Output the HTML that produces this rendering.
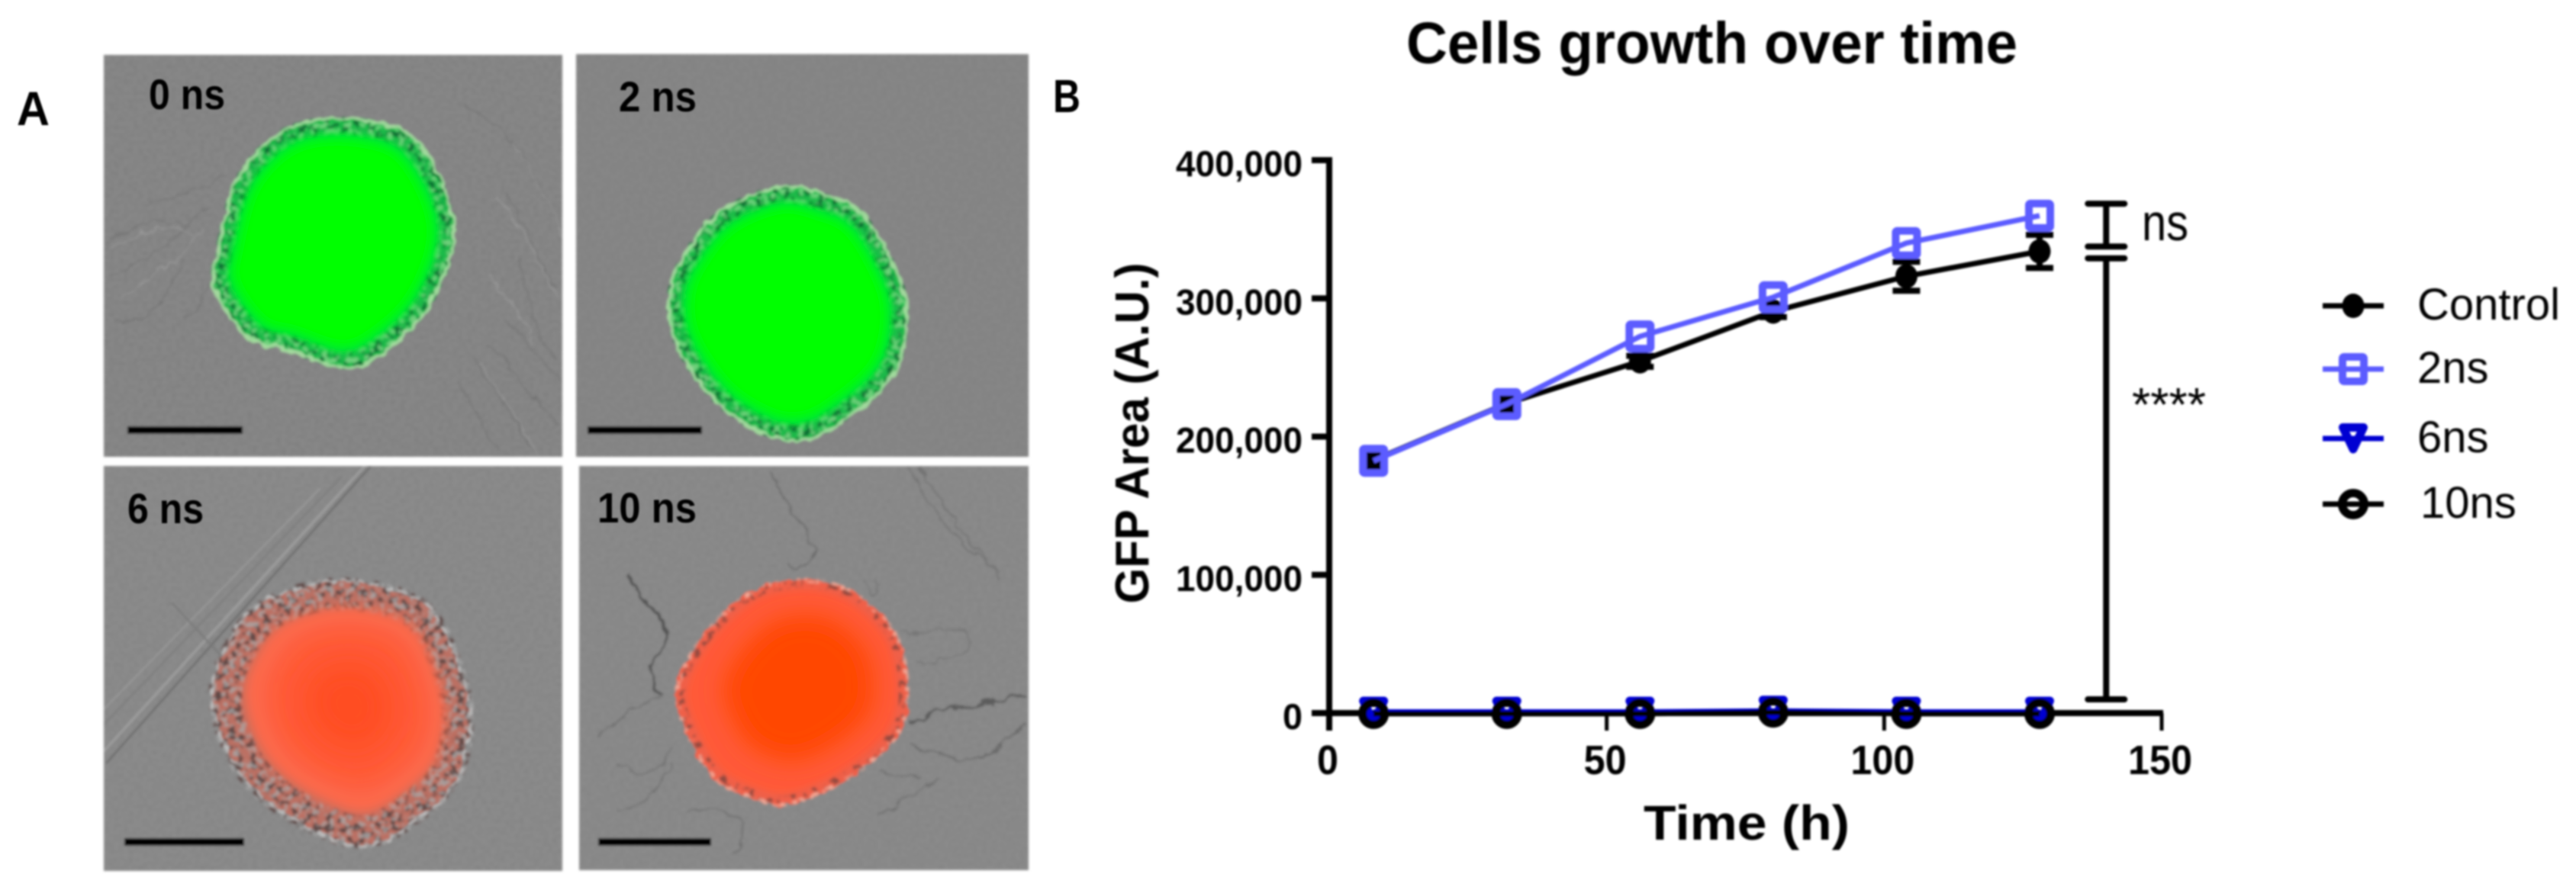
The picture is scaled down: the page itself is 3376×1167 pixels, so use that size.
<!DOCTYPE html>
<html lang="en">
<head>
<meta charset="utf-8">
<title>Cells growth over time</title>
<style>
html,body{margin:0;padding:0;background:#fff;width:3376px;height:1167px;overflow:hidden}
svg{display:block;position:absolute;left:0;top:0}
text{font-family:"Liberation Sans",sans-serif;fill:#000}
</style>
</head>
<body>
<svg id="fig" xmlns="http://www.w3.org/2000/svg" width="3376" height="1167" viewBox="0 0 3376 1167">
<defs>
<filter id="soft" x="-5%" y="-5%" width="110%" height="110%"><feGaussianBlur stdDeviation="1.3"/></filter>
<filter id="softPanel" x="-5%" y="-5%" width="110%" height="110%"><feGaussianBlur stdDeviation="1.6"/></filter>
<filter id="softText" x="-10%" y="-30%" width="120%" height="160%"><feGaussianBlur stdDeviation="1.1"/></filter>
<filter id="rough" x="-10%" y="-10%" width="120%" height="120%">
<feTurbulence type="fractalNoise" baseFrequency="0.07" numOctaves="2" seed="4" result="n"/>
<feDisplacementMap in="SourceGraphic" in2="n" scale="11" xChannelSelector="R" yChannelSelector="G"/>
<feGaussianBlur stdDeviation="0.9"/>
</filter>
<filter id="speckle" x="-10%" y="-10%" width="120%" height="120%">
<feTurbulence type="fractalNoise" baseFrequency="0.11" numOctaves="2" seed="21" result="n"/>
<feColorMatrix in="n" type="matrix" values="0 0 0 0 0  0 0 0 0 0  0 0 0 0 0  9 0 0 0 -4.7" result="m"/>
<feComposite in="SourceGraphic" in2="m" operator="in" result="c"/>
<feGaussianBlur in="c" stdDeviation="1"/>
</filter>
<filter id="speckle2" x="-10%" y="-10%" width="120%" height="120%">
<feTurbulence type="fractalNoise" baseFrequency="0.13" numOctaves="2" seed="47" result="n"/>
<feColorMatrix in="n" type="matrix" values="0 0 0 0 0  0 0 0 0 0  0 0 0 0 0  0 9 0 0 -4.6" result="m"/>
<feComposite in="SourceGraphic" in2="m" operator="in" result="c"/>
<feGaussianBlur in="c" stdDeviation="1"/>
</filter>
<filter id="wiggle" x="-20%" y="-20%" width="140%" height="140%">
<feTurbulence type="fractalNoise" baseFrequency="0.05" numOctaves="3" seed="9" result="n"/>
<feDisplacementMap in="SourceGraphic" in2="n" scale="16" xChannelSelector="G" yChannelSelector="R"/>
<feGaussianBlur stdDeviation="0.8"/>
</filter>
<filter id="grain" x="0" y="0" width="100%" height="100%">
<feTurbulence type="fractalNoise" baseFrequency="0.16 0.2" numOctaves="2" seed="12"/>
<feColorMatrix type="matrix" values="0 0 0 0 0  0 0 0 0 0  0 0 0 0 0  1.6 0 0 0 -0.62"/>
<feGaussianBlur stdDeviation="0.8"/>
</filter>
<filter id="b4" x="-20%" y="-20%" width="140%" height="140%"><feGaussianBlur stdDeviation="4"/></filter>
<filter id="b8" x="-20%" y="-20%" width="140%" height="140%"><feGaussianBlur stdDeviation="7"/></filter>
<filter id="b18" x="-30%" y="-30%" width="160%" height="160%"><feGaussianBlur stdDeviation="16"/></filter>
<filter id="b24" x="-40%" y="-40%" width="180%" height="180%"><feGaussianBlur stdDeviation="22"/></filter>
<clipPath id="clip-0"><rect x="136" y="72" width="601" height="527"/></clipPath>
<clipPath id="clip-2"><rect x="755" y="71" width="593" height="528"/></clipPath>
<clipPath id="clip-6"><rect x="136" y="611" width="601" height="531"/></clipPath>
<clipPath id="clip-10"><rect x="759" y="611" width="589" height="530"/></clipPath>
</defs>

<rect x="0" y="0" width="3376" height="1167" fill="#ffffff"/>

<g id="panels" filter="url(#softPanel)">
  <g clip-path="url(#clip-0)">
    <rect x="136" y="72" width="601" height="527" fill="#878787"/>
    <rect x="136" y="72" width="601" height="527" fill="#000" opacity="0.08" filter="url(#grain)"/>
    <g id="fibers-0" fill="none" stroke="#6f6f6f" stroke-width="2.2" opacity="0.6" filter="url(#wiggle)">
      <path d="M140 320 C180 290 210 280 250 300 M145 360 C190 340 220 330 270 270 M150 420 C190 430 220 390 240 340 M190 270 C230 260 260 250 300 230 M240 420 C270 400 280 370 290 330 M620 470 C650 520 670 540 700 590 M640 450 C680 490 700 530 735 560 M600 500 C620 530 640 570 650 590 M670 180 C700 230 720 260 735 300 M660 250 C690 290 700 340 730 380 M680 340 C700 390 690 430 730 470 M660 420 C690 440 700 470 735 500 M610 140 C650 160 670 180 690 210"/>
    </g>
    <g id="fibers-0b" fill="none" stroke="#a2a2a2" stroke-width="2" opacity="0.55" filter="url(#wiggle)">
      <path d="M145 330 C180 300 215 290 255 308 M160 390 C200 360 225 350 265 300 M630 478 C660 525 680 550 705 595 M650 260 C690 300 705 350 732 390 M672 185 C705 240 725 270 737 310 M640 360 C670 390 680 420 700 450"/>
    </g>
    <g id="cell-0"></g>
  </g>
  <g clip-path="url(#clip-2)">
    <rect x="755" y="71" width="593" height="528" fill="#868686"/>
    <rect x="755" y="71" width="593" height="528" fill="#000" opacity="0.04" filter="url(#grain)"/>
    <g id="cell-2"></g>
  </g>
  <g clip-path="url(#clip-6)">
    <rect x="136" y="611" width="601" height="531" fill="#8b8b8b"/>
    <rect x="136" y="611" width="601" height="531" fill="#000" opacity="0.07" filter="url(#grain)"/>
    <g fill="none">
      <path d="M486 611 L139 1001" stroke="#717171" stroke-width="3"/>
      <path d="M478 611 L136 985" stroke="#9e9e9e" stroke-width="3"/>
      <path d="M448 625 L136 950" stroke="#7f7f7f" stroke-width="2.5"/>
      <path d="M420 640 L136 930" stroke="#999999" stroke-width="2"/>
      <path d="M225 790 L290 860" stroke="#7a7a7a" stroke-width="2.5"/>
    </g>
    <g id="cell-6"></g>
  </g>
  <g clip-path="url(#clip-10)">
    <rect x="759" y="611" width="589" height="530" fill="#8a8a8a"/>
    <rect x="759" y="611" width="589" height="530" fill="#000" opacity="0.05" filter="url(#grain)"/>
    <g fill="none" filter="url(#wiggle)" opacity="0.85">
      <path d="M824 752 C830 775 845 790 860 805 C880 825 870 850 852 872 C848 890 858 905 868 912" stroke="#4a4a4a" stroke-width="4"/>
      <path d="M1191 947 C1215 945 1230 925 1250 925 C1280 925 1310 920 1346 908" stroke="#555" stroke-width="3.5"/>
      <path d="M1190 975 C1230 990 1260 1010 1300 985 L1346 950" stroke="#666" stroke-width="2.6"/>
      <path d="M1010 620 C1040 680 1060 700 1070 720 C1060 740 1040 760 1030 740" stroke="#686868" stroke-width="2.6"/>
      <path d="M1190 615 C1230 690 1270 720 1310 750 M1205 612 C1245 680 1290 730 1312 760" stroke="#6f6f6f" stroke-width="2.2"/>
      <path d="M780 965 C820 935 840 925 868 912 M810 1000 C840 1030 870 1010 880 980 M810 1065 C840 1060 870 1030 880 1000 M900 1065 C950 1050 1000 1080 960 1120 M1150 1010 C1170 1020 1190 1015 1210 1020 M1150 1070 C1180 1050 1210 1040 1230 1020" stroke="#6e6e6e" stroke-width="2.2"/>
      <path d="M1130 760 C1140 790 1150 780 1150 760 M1180 830 C1220 840 1260 810 1270 830 C1280 860 1240 870 1200 865" stroke="#757575" stroke-width="2"/>
    </g>
    <g id="cell-10"></g>
  </g>
  <rect x="167" y="559" width="151" height="10" fill="#000"/>
  <rect x="770" y="559" width="150" height="10" fill="#000"/>
  <rect x="163" y="1099" width="157" height="10" fill="#000"/>
  <rect x="784" y="1099" width="148" height="10" fill="#000"/>
</g>

<g filter="url(#softText)" font-weight="700">
  <text x="22" y="164" font-size="63" textLength="43" lengthAdjust="spacingAndGlyphs">A</text>
  <text x="1380" y="147" font-size="61" textLength="36" lengthAdjust="spacingAndGlyphs">B</text>
  <text x="195" y="143" font-size="56" textLength="100" lengthAdjust="spacingAndGlyphs">0 ns</text>
  <text x="811" y="146" font-size="56" textLength="102" lengthAdjust="spacingAndGlyphs">2 ns</text>
  <text x="167" y="686" font-size="56" textLength="100" lengthAdjust="spacingAndGlyphs">6 ns</text>
  <text x="783" y="685" font-size="56" textLength="130" lengthAdjust="spacingAndGlyphs">10 ns</text>
</g>

<g id="chart" filter="url(#soft)">
  <text x="1843" y="83" font-size="77" font-weight="700" textLength="801" lengthAdjust="spacingAndGlyphs">Cells growth over time</text>
  <text transform="translate(1505,568) rotate(-90)" text-anchor="middle" font-size="62" font-weight="700" textLength="447" lengthAdjust="spacingAndGlyphs">GFP Area (A.U.)</text>
  <text x="2154" y="1101" font-size="64" font-weight="700" textLength="270" lengthAdjust="spacingAndGlyphs">Time (h)</text>
  <g id="axes"></g>
  <g id="series"></g>
  <g id="stats"></g>
  <text x="2807" y="315" font-size="68" textLength="61" lengthAdjust="spacingAndGlyphs">ns</text>
  <text x="2794" y="552" font-size="62" textLength="97" lengthAdjust="spacingAndGlyphs">****</text>
  <g id="legend"></g>
</g>
</svg>

<script>
// Chart data
const timeHours = [8, 32, 56, 80, 104, 128];
const controlValues = [183000, 224000, 254500, 290500, 316000, 334000];
const controlErrors = [3000, 3000, 4000, 4000, 10500, 12000];
const ns2Values = [182500, 223500, 272500, 300800, 340000, 359800];
const ns6Values = [800, 800, 800, 1500, 800, 800];
const ns10Values = [-500, -500, -500, 500, -500, -500];
const yTicks = [0, 100000, 200000, 300000, 400000];
const yTickLabels = ["0", "100,000", "200,000", "300,000", "400,000"];
const xTicks = [0, 50, 100, 150];
const xTickLabels = ["0", "50", "100", "150"];
const bracketTime = [140, 140];
const bracketLow = [337500, 9900];
const bracketHigh = [368500, 329000];
const legendLabels = ["Control", "2ns", "6ns", "10ns"];

const NS = 'http://www.w3.org/2000/svg';
const BLACK = '#000000', PERIWINKLE = '#5c5cff', NAVY = '#0000d2';
function xScale(t){ return 1742 + t * (2833 - 1742) / 150; }
function yScale(v){ return 935 - v * 725 / 400000; }
function make(tag, attrs, parent){
  const el = document.createElementNS(NS, tag);
  for (const k in attrs) el.setAttribute(k, attrs[k]);
  parent.appendChild(el);
  return el;
}
const axes = document.getElementById('axes');
const series = document.getElementById('series');
const stats = document.getElementById('stats');
const legend = document.getElementById('legend');

// axes
const yAxisLine = make('line', {x1:xScale(0), x2:xScale(0), y1:yScale(400000)-4, y2:958, stroke:BLACK, 'stroke-width':8}, axes);


const xAxisLine = make('line', {x1:1719, x2:xScale(150)+2, y1:yScale(0), y2:yScale(0), stroke:BLACK, 'stroke-width':8}, axes);


yTicks.forEach(function(v, i){
  const tick = make('line', {x1:1719, x2:xScale(0), y1:yScale(v), y2:yScale(v), stroke:BLACK, 'stroke-width':8}, axes);
  
  
  const label = make('text', {x:1707, y:yScale(v)+21, 'text-anchor':'end', 'font-size':47, 'font-weight':700, textLength:yTickLabels[i].length === 1 ? 26 : 166, lengthAdjust:'spacingAndGlyphs'}, axes);
  label.textContent = yTickLabels[i];
  
  
});
xTicks.forEach(function(t, i){
  const tick = make('line', {x1:xScale(t), x2:xScale(t), y1:yScale(0), y2:958, stroke:BLACK, 'stroke-width':i === 0 ? 8 : 5}, axes);
  
  
  const label = make('text', {x:xScale(t)-2, y:1015, 'text-anchor':'middle', 'font-size':54, 'font-weight':700, textLength:String(xTickLabels[i]).length * 28, lengthAdjust:'spacingAndGlyphs'}, axes);
  label.textContent = xTickLabels[i];
  
  
});

// markers
function drawMarker(kind, cx, cy, parent){
  if (kind === 'disc') return make('ellipse', {cx:cx, cy:cy, rx:14.5, ry:16, fill:BLACK}, parent);
  if (kind === 'square') return make('rect', {x:cx-14, y:cy-16, width:28, height:32, rx:2, fill:'none', stroke:PERIWINKLE, 'stroke-width':10}, parent);
  if (kind === 'triangle') return make('path', {d:'M'+(cx-13.5)+' '+(cy-14.5)+' H'+(cx+13.5)+' L'+cx+' '+(cy+14)+' Z', fill:'none', stroke:NAVY, 'stroke-width':11, 'stroke-linejoin':'round'}, parent);
  return make('ellipse', {cx:cx, cy:cy, rx:14.5, ry:14.5, fill:'none', stroke:BLACK, 'stroke-width':11}, parent);
}
function polyPoints(values){
  return values.map(function(v, i){ return xScale(timeHours[i]) + ',' + yScale(v); }).join(' ');
}

// Control series
const controlLine = make('polyline', {points:polyPoints(controlValues), fill:'none', stroke:BLACK, 'stroke-width':7}, series);


controlValues.forEach(function(v, i){
  const x = xScale(timeHours[i]);
  const err = make('path', {d:'M'+x+' '+yScale(v+controlErrors[i])+' V'+yScale(v-controlErrors[i])+' M'+(x-18)+' '+yScale(v+controlErrors[i])+' H'+(x+18)+' M'+(x-18)+' '+yScale(v-controlErrors[i])+' H'+(x+18), fill:'none', stroke:BLACK, 'stroke-width':8}, series);
  
  
  const m = drawMarker('disc', x, yScale(v), series);
  
  
});
// 2 ns series
const ns2Line = make('polyline', {points:polyPoints(ns2Values), fill:'none', stroke:PERIWINKLE, 'stroke-width':7}, series);


ns2Values.forEach(function(v, i){
  const m = drawMarker('square', xScale(timeHours[i]), yScale(v), series);
  
  
});
// 6 ns series
const ns6Line = make('polyline', {points:polyPoints(ns6Values), fill:'none', stroke:NAVY, 'stroke-width':7}, series);


ns6Values.forEach(function(v, i){
  const m = drawMarker('triangle', xScale(timeHours[i]), yScale(v), series);
  
  
});
// 10 ns series
const ns10Line = make('polyline', {points:polyPoints(ns10Values), fill:'none', stroke:BLACK, 'stroke-width':7}, series);


ns10Values.forEach(function(v, i){
  const m = drawMarker('ring', xScale(timeHours[i]), yScale(v), series);
  
  
});

// significance brackets
bracketTime.forEach(function(t, i){
  const x = xScale(t), a = yScale(bracketHigh[i]), b = yScale(bracketLow[i]);
  const br = make('path', {d:'M'+x+' '+a+' V'+b+' M'+(x-24)+' '+a+' H'+(x+24)+' M'+(x-24)+' '+b+' H'+(x+24), fill:'none', stroke:BLACK, 'stroke-width':8, 'stroke-linecap':'round'}, stats);
  
  
});

// legend
const legendStyles = [['disc', BLACK], ['square', PERIWINKLE], ['triangle', NAVY], ['ring', BLACK]];
const legendRowsY = [401, 484, 575, 661];
legendLabels.forEach(function(name, i){
  const y = legendRowsY[i];
  const g = make('g', {}, legend);
  
  
  const ln = make('line', {x1:3044, x2:3124, y1:y, y2:y, stroke:legendStyles[i][1], 'stroke-width':7}, g);
  
  
  const mk = drawMarker(legendStyles[i][0], 3084, y, g);
  
  
  const tx = make('text', {x:i === 3 ? 3172 : 3168, y:y+18, 'font-size':58}, g);
  tx.textContent = name;
  
  
});

// micrograph cells (illustrative artwork, not chart data)
function blobPath(pts, k, ox, oy){
  const n = pts.length;
  const cx = pts.reduce(function(s,p){return s+p[0];},0)/n;
  const cy = pts.reduce(function(s,p){return s+p[1];},0)/n;
  const q = pts.map(function(p){ return [cx+(p[0]-cx)*k+(ox||0), cy+(p[1]-cy)*k+(oy||0)]; });
  let d = 'M'+q[0][0]+' '+q[0][1];
  for (let i=0;i<n;i++){
    const p0=q[(i-1+n)%n],p1=q[i],p2=q[(i+1)%n],p3=q[(i+2)%n];
    d += ' C'+(p1[0]+(p2[0]-p0[0])/6)+' '+(p1[1]+(p2[1]-p0[1])/6)+' '+(p2[0]-(p3[0]-p1[0])/6)+' '+(p2[1]-(p3[1]-p1[1])/6)+' '+p2[0]+' '+p2[1];
  }
  return d+' Z';
}
function layer(parent, pts, k, attrs, ox, oy){
  const a = Object.assign({d:blobPath(pts,k,ox,oy), fill:'none'}, attrs);
  const el = make('path', a, parent);
  
  
  return el;
}
const outline0 = [[408,158],[482,158],[543,182],[588,261],[592,328],[559,406],[506,458],[453,482],[376,458],[327,443],[282,380],[286,328],[310,238],[355,182]];
const outline2 = [[1023,245],[1084,257],[1125,276],[1160,326],[1188,402],[1171,490],[1099,556],[1048,578],[997,567],[936,525],[885,448],[877,383],[900,329],[946,276]];
const outline6 = [[429,763],[522,774],[571,807],[604,882],[616,945],[600,1020],[551,1072],[482,1109],[408,1087],[339,1042],[298,986],[278,912],[294,852],[339,793]];
const outline10 = [[1033,761],[1084,763],[1130,784],[1176,835],[1190,907],[1176,965],[1114,1020],[1038,1054],[987,1048],[931,1016],[890,936],[890,889],[926,828],[982,777]];

function greenCell(id, pts){
  const g = document.getElementById(id);
  layer(g, pts, 0.99, {fill:'#1cb94a', filter:'url(#rough)'});
  layer(g, pts, 0.93, {stroke:'#0d6b30', 'stroke-width':26, filter:'url(#speckle)'});
  layer(g, pts, 0.93, {stroke:'#6fd07c', 'stroke-width':22, filter:'url(#speckle2)'});
  layer(g, pts, 1.0, {stroke:'#a6e2a0', 'stroke-width':4, filter:'url(#rough)', opacity:0.9});
  layer(g, pts, 0.88, {fill:'#00e83a', filter:'url(#b4)'});
  layer(g, pts, 0.83, {fill:'#00ff00', filter:'url(#b8)'});
}
greenCell('cell-0', outline0);
greenCell('cell-2', outline2);

(function(){
  const g = document.getElementById('cell-6');
  layer(g, outline6, 0.99, {fill:'#bc6f64', filter:'url(#rough)'});
  layer(g, outline6, 0.9, {stroke:'#5d4644', 'stroke-width':44, filter:'url(#speckle)'});
  layer(g, outline6, 0.9, {stroke:'#a9a9a9', 'stroke-width':44, filter:'url(#speckle2)', opacity:0.8});
  layer(g, outline6, 1.0, {stroke:'#c6c6c6', 'stroke-width':3, 'stroke-dasharray':'11 8', filter:'url(#rough)', opacity:0.8});
  layer(g, outline6, 0.78, {fill:'#fb6a4e', filter:'url(#b8)'}, 4, -4);
  layer(g, outline6, 0.62, {fill:'#ff5a38', filter:'url(#b18)'}, 6, -6);
  layer(g, outline6, 0.36, {fill:'#ff4e24', filter:'url(#b24)'}, 6, -6);
})();

(function(){
  const g = document.getElementById('cell-10');
  layer(g, outline10, 1.0, {fill:'#ef6048', filter:'url(#rough)'});
  layer(g, outline10, 0.99, {stroke:'#f2ab9a', 'stroke-width':6, filter:'url(#speckle2)'});
  layer(g, outline10, 0.95, {stroke:'#8f4a40', 'stroke-width':9, filter:'url(#speckle)'});
  layer(g, outline10, 0.9, {fill:'#ff5a38', filter:'url(#b4)'});
  layer(g, outline10, 0.64, {fill:'#ff4600', filter:'url(#b18)'}, 8, -2);
})();
</script>
</body>
</html>
